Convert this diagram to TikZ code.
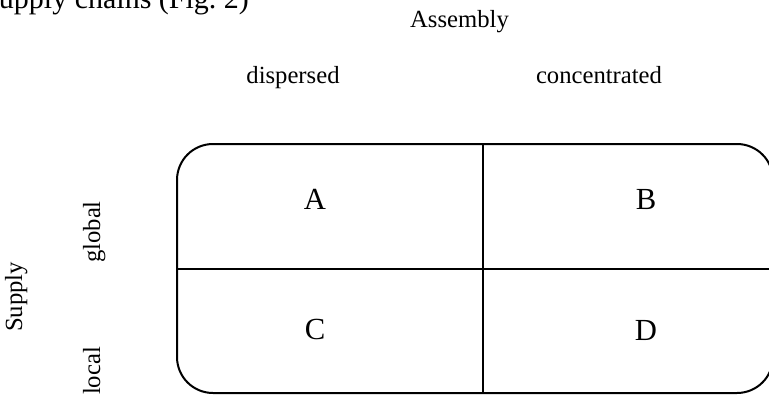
\documentclass[tikz,border=0pt]{standalone}
\usepackage{fontspec}
\setmainfont{Liberation Serif}
\usetikzlibrary{positioning}

\begin{document}
\begin{tikzpicture}[
        x=0.75pt, y=-0.75pt,
        axislbl/.style={font=\fontsize{18.5}{22}\selectfont, inner sep=0pt},
        cell/.style={font=\fontsize{23}{27}\selectfont, inner sep=0pt},
        caption/.style={font=\fontsize{22.5}{26}\selectfont, inner sep=0pt},
        frameline/.style={line width=1.5pt, black, rounded corners=27pt},
        divider/.style={line width=1.5pt, black}
    ]
        % Canvas (the reference is cropped on the top, right and bottom)
        \useasboundingbox (0,0) rectangle (769,394);
        \clip (0,0) rectangle (769,394);

        % Cut-off text line above the figure
        \node[caption, anchor=base west] (cap) at (-13,8) {supply chains (Fig.~2)};

        % Column headings
        \node[axislbl, anchor=base] (assembly) at (459.5,27) {Assembly};
        \node[axislbl, anchor=base] (dispersed) at (293,83) {dispersed};
        \node[axislbl, anchor=base] (concentrated) at (599,83) {concentrated};

        % Row headings (rotated)
        \node[axislbl, rotate=90, anchor=base] (supply) at (22,297) {Supply};
        \node[axislbl, rotate=90, anchor=base] (global) at (100,232) {global};
        \node[axislbl, rotate=90, anchor=base] (local) at (100,371) {local};

        % Rounded frame and dividers
        \coordinate (nw) at (177,144);
        \coordinate (se) at (773,393);
        \draw[frameline] (nw) rectangle (se);
        \coordinate (vtop) at (483,144);
        \coordinate (vbot) at (483,393);
        \coordinate (hleft) at (177,269);
        \coordinate (hright) at (773,269);
        \draw[divider] (vtop) -- (vbot);
        \draw[divider] (hleft) -- (hright);

        % Cells
        \node[cell] (a) at (315,199) {A};
        \node[cell] (b) at (646,199) {B};
        \node[cell] (c) at (315,329) {C};
        \node[cell] (d) at (646,330) {D};
\end{tikzpicture}
\end{document}
